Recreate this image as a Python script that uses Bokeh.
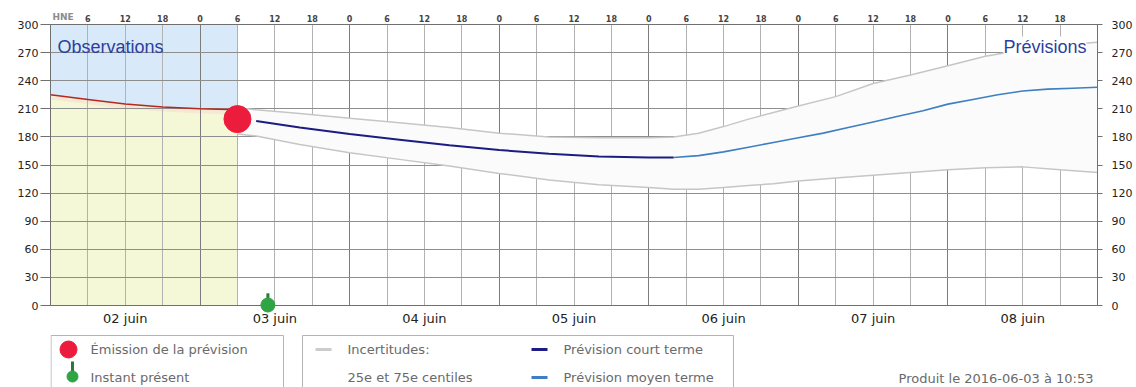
from bokeh.plotting import figure
from bokeh.models import Range1d, LinearAxis, FixedTicker, Grid, Label
from bokeh.layouts import column
from bokeh.embed import file_html
from bokeh.resources import INLINE
from bokeh.core.properties import value

# ---------------- data (hours since 2016-06-02 00:00 HNE) ----------------
obs_hours = [0, 6, 12, 18, 24, 30]
obs_values = [225, 220, 215, 212, 210, 209]

emission_hour = 30
emission_value = 199
instant_hour = 34 + 53 / 60  # 2016-06-03 10:53

short_hours = [33, 40, 48, 56, 64, 72, 80, 88, 96, 100]
short_values = [197, 190, 183, 177, 171, 166, 162, 159, 158, 158]

medium_hours = [100, 104, 108, 112, 116, 120, 124, 128, 132, 136, 140, 144,
                148, 152, 156, 160, 164, 168]
medium_values = [158, 160, 164, 169, 174, 179, 184, 190, 196, 202, 208, 215,
                 220, 225, 229, 231, 232, 233]

band_hours = [30, 33, 40, 48, 56, 64, 72, 80, 88, 96, 100, 104, 108, 112, 116,
              120, 126, 132, 138, 144, 150, 156, 162, 168]
band_upper = [211, 209, 205, 200, 195, 190, 184, 180, 179, 179, 180, 184, 191,
              199, 206, 213, 223, 237, 246, 256, 266, 273, 278, 281]
band_lower = [183, 181, 172, 163, 156, 149, 141, 134, 129, 126, 124, 124, 126,
              128, 130, 133, 136, 139, 142, 145, 147, 148, 145, 142]

y_ticks = [0, 30, 60, 90, 120, 150, 180, 210, 240, 270, 300]
hour_ticks = list(range(6, 168, 6))
midnight_ticks = [24, 48, 72, 96, 120, 144]
day_ticks = [12, 36, 60, 84, 108, 132, 156]
day_labels = ["02 juin", "03 juin", "04 juin", "05 juin", "06 juin", "07 juin", "08 juin"]
timezone_label = "HNE"

legend_left = ["Émission de la prévision", "Instant présent"]
legend_mid = ["Incertitudes:", "25e et 75e centiles"]
legend_right = ["Prévision court terme", "Prévision moyen terme"]
produced_text = "Produit le 2016-06-03 à 10:53"

FONT = "DejaVu Sans"
FIG_W = 1136
BORDER_L = 50
BORDER_R = 39

# ---------------- main chart ----------------
p = figure(width=FIG_W, height=330, x_range=Range1d(0, 168), y_range=Range1d(0, 300),
           output_backend="svg", toolbar_location=None,
           x_axis_location=None, y_axis_location=None,
           min_border_left=BORDER_L, min_border_right=BORDER_R,
           min_border_top=24, min_border_bottom=25)
p.xgrid.visible = False
p.ygrid.visible = False
p.outline_line_color = "#707070"
p.background_fill_color = "white"
p.border_fill_color = "white"

# background regions (below grid)
obs_under = [v - 5 for v in obs_values]
r1 = p.varea(x=obs_hours, y1=obs_values, y2=[300] * len(obs_hours), fill_color="#d8e9f9")
r2 = p.varea(x=obs_hours, y1=[0] * len(obs_hours), y2=obs_values, fill_color="#f5f8d6")
r3 = p.varea(x=obs_hours, y1=obs_under, y2=obs_values, fill_color="#f6e8d4")
for r in (r1, r2, r3):
    r.level = "image"

# grids
p.add_layout(Grid(dimension=0, ticker=FixedTicker(ticks=hour_ticks), grid_line_color="#b2b2b2"))
p.add_layout(Grid(dimension=0, ticker=FixedTicker(ticks=midnight_ticks), grid_line_color="#7c7c7c"))
p.add_layout(Grid(dimension=1, ticker=FixedTicker(ticks=y_ticks), grid_line_color="#8e8e8e"))

# uncertainty band
p.varea(x=band_hours, y1=band_lower, y2=band_upper, fill_color="#fbfbfb")
p.line(band_hours, band_upper, line_color="#c6c6c6", line_width=1.5)
p.line(band_hours, band_lower, line_color="#c6c6c6", line_width=1.5)

# series
p.line(obs_hours, obs_values, line_color="#b5281e", line_width=1.5)
p.line(short_hours, short_values, line_color="#1c1c84", line_width=2)
p.line(medium_hours, medium_values, line_color="#3d7fc2", line_width=1.6)
p.scatter([emission_hour], [emission_value], size=27, color="#ec1c3c")

# instant present pin
stem = p.segment(x0=[instant_hour], y0=[13], x1=[instant_hour], y1=[3],
                 line_color="#2a7a34", line_width=3)
ball = p.scatter([instant_hour], [0.5], size=14, color="#2fa444", marker="circle")
stem.level = "overlay"
ball.level = "overlay"

# axes
def y_axis(tick_out, standoff):
    ax = LinearAxis(ticker=FixedTicker(ticks=y_ticks))
    ax.major_tick_out = tick_out
    ax.major_tick_in = 0
    ax.minor_tick_line_color = None
    ax.major_label_standoff = standoff
    ax.major_label_text_font = FONT
    ax.major_label_text_font_size = "11px"
    ax.major_label_text_color = "#222222"
    ax.axis_line_color = "#707070"
    ax.major_tick_line_color = "#707070"
    return ax

p.add_layout(y_axis(10, 2), "left")
p.add_layout(y_axis(5, 9), "right")

top = LinearAxis(ticker=FixedTicker(ticks=hour_ticks),
                 major_label_overrides={h: str(h % 24) for h in hour_ticks})
top.major_tick_out = 0
top.major_tick_in = 0
top.minor_tick_line_color = None
top.major_label_standoff = 3
top.major_label_text_font = FONT
top.major_label_text_font_size = "8px"
top.major_label_text_font_style = "bold"
top.major_label_text_color = "#444444"
top.axis_line_color = "#707070"
p.add_layout(top, "above")

hne = p.text(x=[0], y=[300], text=[timezone_label], x_offset=2, y_offset=-3,
             text_font=value(FONT), text_font_size="9px", text_font_style="bold",
             text_color="#8c8c8c", text_baseline="bottom", text_align="left")
hne.level = "overlay"

bottom = LinearAxis(ticker=FixedTicker(ticks=day_ticks),
                    major_label_overrides={t: l for t, l in zip(day_ticks, day_labels)})
bottom.major_tick_out = 0
bottom.major_tick_in = 0
bottom.minor_tick_line_color = None
bottom.major_label_standoff = 5
bottom.major_label_text_font = FONT
bottom.major_label_text_font_size = "13px"
bottom.major_label_text_color = "#222222"
bottom.axis_line_color = "#707070"
p.add_layout(bottom, "below")

p.add_layout(Label(x=0, y=300, x_offset=7, y_offset=-22, text="Observations",
                   text_font="Liberation Sans", text_font_size="18px", text_color="#2b3f9e",
                   text_baseline="middle", text_align="left"))
p.add_layout(Label(x=168, y=300, x_offset=-11, y_offset=-22, text="Prévisions",
                   text_font="Liberation Sans", text_font_size="18px", text_color="#2b3f9e",
                   text_baseline="middle", text_align="right",
                   background_fill_color="white"))

# ---------------- legend strip (data units = page pixels) ----------------
q = figure(width=FIG_W, height=57,
           x_range=Range1d(BORDER_L, FIG_W - BORDER_R), y_range=Range1d(387, 330),
           output_backend="svg", toolbar_location=None,
           x_axis_location=None, y_axis_location=None,
           min_border_left=BORDER_L, min_border_right=BORDER_R,
           min_border_top=0, min_border_bottom=0)
q.xgrid.visible = False
q.ygrid.visible = False
q.outline_line_color = None

q.quad(left=[50.5, 302], right=[283, 733], top=[335, 335], bottom=[400, 400],
       fill_color=None, line_color="#b4b4b4", line_width=1)

q.scatter([68], [349], size=17, color="#ec1c3c")
q.segment(x0=[72], y0=[361], x1=[72], y1=[372], line_color="#2a7a34", line_width=3)
q.scatter([72], [376], size=11, color="#2fa444")

q.segment(x0=[315], y0=[349], x1=[331], y1=[349], line_color="#cccccc", line_width=3)
q.segment(x0=[531], y0=[349], x1=[547], y1=[349], line_color="#1c1c84", line_width=3)
q.segment(x0=[531], y0=[377], x1=[547], y1=[377], line_color="#3d7fc2", line_width=3)

txt_kw = dict(text_font=value(FONT), text_font_size="13px", text_color="#6a6a6a",
              text_baseline="middle")
q.text(x=[90, 90], y=[349, 377], text=legend_left, text_align="left", **txt_kw)
q.text(x=[347, 347], y=[349, 377], text=legend_mid, text_align="left", **txt_kw)
q.text(x=[563, 563], y=[349, 377], text=legend_right, text_align="left", **txt_kw)
q.text(x=[1093], y=[378], text=[produced_text], text_align="right", **txt_kw)

layout = column(p, q, spacing=0)
open("out.html", "w").write(file_html(layout, INLINE))
